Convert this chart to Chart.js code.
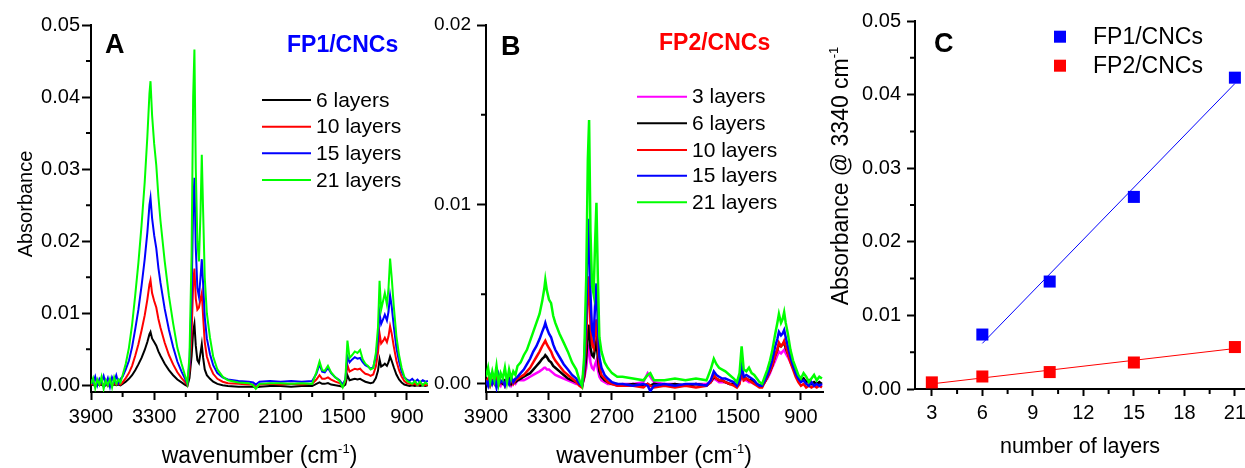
<!DOCTYPE html>
<html>
<head>
<meta charset="utf-8">
<title>FTIR absorbance of FP/CNC multilayers</title>
<script src="https://cdn.jsdelivr.net/npm/chart.js@4.4.1/dist/chart.umd.min.js"></script>
<style>
  html, body { margin: 0; padding: 0; background: #fff; overflow: hidden; width: 1245px; height: 468px; }
  canvas { position: absolute; top: 0; }
  #chartA { left: 0; }
  #chartB { left: 425px; }
  #chartC { left: 800px; }
</style>
</head>
<body>
<canvas id="chartA" width="440" height="468" style="width:440px;height:468px"></canvas>
<canvas id="chartB" width="410" height="468" style="width:410px;height:468px"></canvas>
<canvas id="chartC" width="460" height="468" style="width:460px;height:468px"></canvas>
<script>
// ---- data ----

// wavenumber grid (cm-1) shared by panels A and B
const wavenumbers = [
  3900, 3880, 3860, 3840, 3820, 3800, 3780, 3760, 3740, 3720,
  3700, 3680, 3660, 3640, 3620, 3600, 3570, 3540, 3510, 3480,
  3450, 3420, 3390, 3365, 3345, 3335, 3320, 3300, 3280, 3260,
  3240, 3200, 3160, 3120, 3080, 3040, 3010, 2985, 2965, 2945,
  2930, 2918, 2905, 2890, 2875, 2860, 2848, 2835, 2820, 2800,
  2770, 2740, 2700, 2650, 2600, 2500, 2400, 2360, 2335, 2300,
  2200, 2100, 2000, 1900, 1800, 1760, 1730, 1705, 1680, 1650,
  1620, 1580, 1540, 1510, 1485, 1465, 1445, 1420, 1395, 1370,
  1345, 1320, 1295, 1270, 1245, 1220, 1195, 1175, 1160, 1145,
  1125, 1110, 1090, 1075, 1060, 1045, 1025, 1000, 975, 950,
  925, 900, 875, 850, 825, 800, 775, 750, 725, 700
];

// panel A: FP1/CNCs
const fp1Layers6 = [
  0.0000, 0.0001, -0.0001, 0.0001, 0.0000, 0.0001, -0.0001, 0.0000, 0.0001, -0.0001,
  0.0000, 0.0001, 0.0000, 0.0001, 0.0000, 0.0002, 0.0005, 0.0009, 0.0014, 0.0021,
  0.0029, 0.0038, 0.0049, 0.0060, 0.0071, 0.0074, 0.0065, 0.0060, 0.0055, 0.0047,
  0.0041, 0.0030, 0.0021, 0.0014, 0.0008, 0.0004, 0.0001, -0.0001, 0.0010, 0.0040,
  0.0075, 0.0085, 0.0055, 0.0035, 0.0031, 0.0045, 0.0057, 0.0038, 0.0022, 0.0014,
  0.0009, 0.0005, 0.0002, 0.0000, -0.0001, -0.0002, -0.0002, -0.0002, -0.0003, -0.0002,
  -0.0001, -0.0001, -0.0002, -0.0001, -0.0001, 0.0002, 0.0004, 0.0002, 0.0002, 0.0003,
  0.0001, 0.0000, -0.0001, -0.0002, 0.0001, 0.0014, 0.0007, 0.0008, 0.0009, 0.0008,
  0.0009, 0.0007, 0.0005, 0.0004, 0.0003, 0.0004, 0.0010, 0.0020, 0.0036, 0.0026,
  0.0028, 0.0030, 0.0027, 0.0032, 0.0040, 0.0034, 0.0025, 0.0015, 0.0008, 0.0004,
  0.0001, 0.0000, -0.0001, 0.0000, -0.0001, 0.0000, -0.0001, 0.0000, -0.0001, 0.0000
];
const fp1Layers10 = [
  0.0001, 0.0003, -0.0001, 0.0002, 0.0000, 0.0003, 0.0001, 0.0002, -0.0001, 0.0002,
  0.0000, 0.0003, 0.0001, 0.0002, 0.0001, 0.0004, 0.0010, 0.0017, 0.0027, 0.0041,
  0.0057, 0.0076, 0.0097, 0.0119, 0.0140, 0.0146, 0.0128, 0.0117, 0.0108, 0.0092,
  0.0080, 0.0059, 0.0042, 0.0029, 0.0018, 0.0010, 0.0005, 0.0000, 0.0020, 0.0070,
  0.0140, 0.0162, 0.0120, 0.0105, 0.0108, 0.0120, 0.0128, 0.0095, 0.0060, 0.0040,
  0.0026, 0.0016, 0.0009, 0.0005, 0.0003, 0.0002, 0.0001, 0.0001, -0.0002, 0.0001,
  0.0002, 0.0001, 0.0002, 0.0001, 0.0002, 0.0008, 0.0014, 0.0009, 0.0009, 0.0011,
  0.0008, 0.0005, 0.0003, 0.0000, 0.0005, 0.0028, 0.0019, 0.0021, 0.0023, 0.0022,
  0.0023, 0.0019, 0.0016, 0.0015, 0.0013, 0.0015, 0.0026, 0.0045, 0.0072, 0.0058,
  0.0062, 0.0066, 0.0060, 0.0068, 0.0082, 0.0072, 0.0054, 0.0034, 0.0021, 0.0012,
  0.0006, 0.0003, 0.0002, 0.0001, 0.0002, 0.0000, 0.0002, 0.0001, 0.0000, 0.0001
];
const fp1Layers15 = [
  0.0008, 0.0003, 0.0012, 0.0000, 0.0009, 0.0004, 0.0013, 0.0002, 0.0010, -0.0002,
  0.0011, 0.0005, 0.0014, 0.0003, 0.0009, 0.0012, 0.0022, 0.0034, 0.0053, 0.0078,
  0.0105, 0.0138, 0.0175, 0.0212, 0.0250, 0.0260, 0.0232, 0.0208, 0.0190, 0.0163,
  0.0142, 0.0106, 0.0077, 0.0053, 0.0033, 0.0019, 0.0010, 0.0002, 0.0030, 0.0120,
  0.0250, 0.0288, 0.0190, 0.0135, 0.0123, 0.0150, 0.0175, 0.0140, 0.0095, 0.0065,
  0.0043, 0.0028, 0.0017, 0.0011, 0.0008, 0.0006, 0.0005, 0.0004, 0.0001, 0.0005,
  0.0006, 0.0005, 0.0006, 0.0005, 0.0006, 0.0016, 0.0029, 0.0019, 0.0018, 0.0024,
  0.0017, 0.0011, 0.0007, 0.0001, 0.0008, 0.0040, 0.0032, 0.0036, 0.0039, 0.0037,
  0.0038, 0.0032, 0.0028, 0.0026, 0.0023, 0.0025, 0.0040, 0.0065, 0.0100, 0.0085,
  0.0092, 0.0098, 0.0090, 0.0102, 0.0125, 0.0110, 0.0082, 0.0052, 0.0033, 0.0019,
  0.0011, 0.0008, 0.0006, 0.0009, 0.0005, 0.0008, 0.0004, 0.0007, 0.0005, 0.0006
];
const fp1Layers21 = [
  0.0002, 0.0010, -0.0004, 0.0008, 0.0001, 0.0012, -0.0005, 0.0007, 0.0000, 0.0009,
  -0.0003, 0.0011, 0.0002, 0.0008, 0.0004, 0.0014, 0.0030, 0.0052, 0.0084, 0.0125,
  0.0170, 0.0222, 0.0282, 0.0345, 0.0405, 0.0422, 0.0375, 0.0335, 0.0305, 0.0262,
  0.0228, 0.0172, 0.0124, 0.0086, 0.0052, 0.0030, 0.0015, 0.0003, 0.0040, 0.0180,
  0.0400, 0.0466, 0.0300, 0.0200, 0.0172, 0.0240, 0.0320, 0.0240, 0.0150, 0.0100,
  0.0066, 0.0040, 0.0022, 0.0012, 0.0007, 0.0004, 0.0003, 0.0000, -0.0005, 0.0002,
  0.0003, 0.0003, 0.0002, 0.0003, 0.0002, 0.0018, 0.0033, 0.0021, 0.0020, 0.0027,
  0.0018, 0.0011, 0.0006, -0.0003, 0.0008, 0.0062, 0.0038, 0.0042, 0.0047, 0.0045,
  0.0049, 0.0036, 0.0030, 0.0027, 0.0022, 0.0024, 0.0045, 0.0080, 0.0145, 0.0105,
  0.0118, 0.0128, 0.0112, 0.0135, 0.0176, 0.0150, 0.0110, 0.0068, 0.0042, 0.0024,
  0.0012, 0.0006, 0.0004, 0.0002, 0.0006, 0.0001, 0.0005, 0.0000, 0.0004, 0.0001
];

// panel B: FP2/CNCs
const fp2Layers3 = [
  0.0000, 0.0002, -0.0001, 0.0001, 0.0002, 0.0000, 0.0001, -0.0001, 0.0002, 0.0000,
  0.0001, 0.0002, -0.0001, 0.0001, 0.0000, 0.0002, 0.0002, 0.0002, 0.0003, 0.0004,
  0.0005, 0.0006, 0.0007, 0.0008, 0.0009, 0.0009, 0.0008, 0.0008, 0.0007, 0.0006,
  0.0005, 0.0004, 0.0003, 0.0002, 0.0001, 0.0000, 0.0000, -0.0001, 0.0003, 0.0009,
  0.0018, 0.0021, 0.0012, 0.0009, 0.0008, 0.0011, 0.0013, 0.0008, 0.0004, 0.0002,
  0.0001, 0.0000, 0.0000, -0.0001, 0.0000, 0.0000, 0.0001, 0.0006, 0.0004, 0.0001,
  0.0000, 0.0000, -0.0001, 0.0000, 0.0000, 0.0001, 0.0003, 0.0002, 0.0001, 0.0001,
  0.0001, 0.0000, 0.0000, -0.0001, 0.0001, 0.0005, 0.0002, 0.0002, 0.0001, 0.0001,
  0.0000, 0.0000, -0.0001, 0.0000, 0.0001, 0.0003, 0.0006, 0.0009, 0.0011, 0.0013,
  0.0016, 0.0018, 0.0017, 0.0018, 0.0019, 0.0017, 0.0015, 0.0012, 0.0009, 0.0006,
  0.0004, 0.0002, 0.0003, 0.0001, 0.0000, 0.0001, -0.0001, 0.0000, -0.0001, 0.0000
];
const fp2Layers6 = [
  0.0002, 0.0000, 0.0003, 0.0001, 0.0002, -0.0001, 0.0003, 0.0001, 0.0000, 0.0002,
  0.0001, 0.0003, 0.0000, 0.0002, 0.0001, 0.0002, 0.0003, 0.0004, 0.0005, 0.0006,
  0.0008, 0.0010, 0.0012, 0.0014, 0.0015, 0.0016, 0.0015, 0.0013, 0.0012, 0.0010,
  0.0009, 0.0007, 0.0005, 0.0003, 0.0002, 0.0001, 0.0000, -0.0001, 0.0004, 0.0015,
  0.0028, 0.0033, 0.0020, 0.0016, 0.0015, 0.0020, 0.0024, 0.0015, 0.0007, 0.0004,
  0.0002, 0.0001, 0.0000, 0.0000, -0.0001, 0.0000, -0.0001, 0.0000, -0.0001, 0.0000,
  -0.0001, 0.0000, -0.0001, 0.0000, -0.0001, 0.0001, 0.0004, 0.0003, 0.0002, 0.0002,
  0.0001, 0.0000, 0.0000, -0.0001, 0.0001, 0.0007, 0.0003, 0.0003, 0.0002, 0.0002,
  0.0001, 0.0000, -0.0001, -0.0001, 0.0001, 0.0004, 0.0007, 0.0010, 0.0013, 0.0016,
  0.0019, 0.0022, 0.0021, 0.0022, 0.0023, 0.0020, 0.0017, 0.0013, 0.0009, 0.0006,
  0.0004, 0.0002, 0.0003, 0.0001, 0.0002, 0.0000, 0.0001, 0.0000, 0.0001, 0.0000
];
const fp2Layers10 = [
  0.0001, 0.0003, -0.0001, 0.0002, 0.0000, 0.0003, -0.0001, 0.0001, 0.0002, -0.0001,
  0.0002, 0.0000, 0.0003, 0.0000, 0.0002, 0.0003, 0.0004, 0.0005, 0.0007, 0.0009,
  0.0012, 0.0015, 0.0018, 0.0021, 0.0023, 0.0024, 0.0022, 0.0020, 0.0018, 0.0015,
  0.0013, 0.0010, 0.0007, 0.0005, 0.0003, 0.0001, -0.0001, -0.0002, 0.0006, 0.0026,
  0.0051, 0.0060, 0.0034, 0.0022, 0.0020, 0.0029, 0.0036, 0.0022, 0.0010, 0.0005,
  0.0003, 0.0001, 0.0000, -0.0001, -0.0001, -0.0001, -0.0002, 0.0000, -0.0001, -0.0002,
  -0.0001, -0.0002, -0.0001, -0.0002, -0.0001, 0.0001, 0.0005, 0.0003, 0.0002, 0.0002,
  0.0001, 0.0000, -0.0001, -0.0002, 0.0000, 0.0007, 0.0002, 0.0003, 0.0002, 0.0001,
  0.0000, -0.0001, -0.0002, -0.0002, 0.0001, 0.0004, 0.0007, 0.0010, 0.0013, 0.0016,
  0.0019, 0.0023, 0.0021, 0.0022, 0.0024, 0.0021, 0.0017, 0.0012, 0.0008, 0.0004,
  0.0001, -0.0001, 0.0000, -0.0002, -0.0001, -0.0002, -0.0001, -0.0002, -0.0001, -0.0002
];
const fp2Layers15 = [
  0.0002, -0.0001, 0.0004, 0.0000, 0.0003, -0.0002, 0.0005, 0.0001, 0.0002, -0.0001,
  0.0003, 0.0000, 0.0004, 0.0001, 0.0003, 0.0004, 0.0006, 0.0008, 0.0011, 0.0014,
  0.0018, 0.0021, 0.0025, 0.0029, 0.0032, 0.0034, 0.0031, 0.0028, 0.0026, 0.0022,
  0.0019, 0.0015, 0.0011, 0.0008, 0.0005, 0.0003, 0.0000, -0.0001, 0.0010, 0.0040,
  0.0078, 0.0092, 0.0050, 0.0030, 0.0026, 0.0045, 0.0056, 0.0035, 0.0015, 0.0009,
  0.0005, 0.0003, 0.0001, 0.0000, 0.0000, -0.0001, 0.0000, -0.0001, -0.0004, -0.0001,
  0.0000, -0.0001, 0.0000, 0.0000, -0.0001, 0.0002, 0.0007, 0.0005, 0.0004, 0.0003,
  0.0003, 0.0002, 0.0001, -0.0001, 0.0002, 0.0010, 0.0004, 0.0005, 0.0004, 0.0003,
  0.0002, 0.0000, -0.0001, -0.0001, 0.0002, 0.0005, 0.0009, 0.0013, 0.0017, 0.0021,
  0.0025, 0.0029, 0.0027, 0.0028, 0.0030, 0.0026, 0.0021, 0.0015, 0.0010, 0.0006,
  0.0003, 0.0001, 0.0002, 0.0000, -0.0001, 0.0001, -0.0001, 0.0000, -0.0001, 0.0000
];
const fp2Layers21 = [
  0.0004, 0.0009, 0.0001, 0.0007, 0.0002, 0.0010, 0.0000, 0.0006, 0.0003, 0.0009,
  0.0001, 0.0008, 0.0003, 0.0007, 0.0005, 0.0010, 0.0012, 0.0016, 0.0019, 0.0024,
  0.0029, 0.0034, 0.0039, 0.0046, 0.0053, 0.0058, 0.0052, 0.0047, 0.0045, 0.0038,
  0.0034, 0.0028, 0.0023, 0.0018, 0.0012, 0.0008, 0.0002, -0.0001, 0.0015, 0.0060,
  0.0125, 0.0147, 0.0085, 0.0055, 0.0050, 0.0080, 0.0101, 0.0060, 0.0026, 0.0018,
  0.0012, 0.0009, 0.0006, 0.0004, 0.0004, 0.0003, 0.0002, 0.0005, 0.0006, 0.0002,
  0.0002, 0.0003, 0.0002, 0.0003, 0.0002, 0.0008, 0.0014, 0.0011, 0.0009, 0.0008,
  0.0007, 0.0005, 0.0003, 0.0001, 0.0006, 0.0021, 0.0008, 0.0007, 0.0009, 0.0006,
  0.0005, 0.0003, 0.0001, 0.0000, 0.0004, 0.0008, 0.0013, 0.0018, 0.0023, 0.0028,
  0.0034, 0.0039, 0.0034, 0.0036, 0.0040, 0.0034, 0.0028, 0.0019, 0.0013, 0.0009,
  0.0005, 0.0003, 0.0006, 0.0004, 0.0001, 0.0003, 0.0005, 0.0002, 0.0004, 0.0003
];

// panel C: absorbance at 3340 cm-1 vs number of layers
const fp1LayerCounts = [6, 10, 15, 21];
const fp1Absorbance3340 = [0.0074, 0.0146, 0.0261, 0.0423];
const fp2LayerCounts = [3, 6, 10, 15, 21];
const fp2Absorbance3340 = [0.0009, 0.0017, 0.0023, 0.0036, 0.0057];
const fp1FitLayers = [6, 21];
const fp1FitAbsorbance = [0.0062, 0.0415];
const fp2FitLayers = [3, 21];
const fp2FitAbsorbance = [0.0007, 0.0055];

// tick values
const wavenumberTicks = [3900, 3300, 2700, 2100, 1500, 900];
const wavenumberMinor = [3600, 3000, 2400, 1800, 1200];
const absTicksA = [0, 0.01, 0.02, 0.03, 0.04, 0.05];
const absMinorA = [0.005, 0.015, 0.025, 0.035, 0.045];
const absTicksB = [0, 0.01, 0.02];
const absMinorB = [0.005, 0.015];
const layerTicks = [3, 6, 9, 12, 15, 18, 21];
const layerMinor = [4.5, 7.5, 10.5, 13.5, 16.5, 19.5];

// ---- drawing ----
const FONT = "'Liberation Sans', Arial, Helvetica, sans-serif";
Chart.defaults.font.family = FONT;
Chart.defaults.color = '#000';

function axis(o) {
  return {
    type: 'linear',
    min: o.min,
    max: o.max,
    reverse: !!o.reverse,
    border: { display: true, color: '#000', width: 2 },
    grid: { drawOnChartArea: false, drawTicks: true, tickLength: o.tickLength, tickWidth: 2, tickColor: '#000' },
    ticks: {
      color: '#000',
      font: { family: FONT, size: o.fontSize },
      padding: o.padding,
      maxRotation: 0,
      autoSkip: false,
      callback: o.format
    },
    afterBuildTicks: s => { s.ticks = o.ticks.map(v => ({ value: v })); },
    afterFit: o.fit
  };
}

function drawRich(ctx, parts, size, cx, baseline) {
  const supSize = Math.round(size * 0.58);
  const widths = parts.map(p => {
    ctx.font = (p.sup ? supSize : size) + 'px ' + FONT;
    return ctx.measureText(p.t).width;
  });
  let x = cx - widths.reduce((a, b) => a + b, 0) / 2;
  parts.forEach((p, i) => {
    ctx.font = (p.sup ? supSize : size) + 'px ' + FONT;
    ctx.fillText(p.t, x, p.sup ? baseline - size * 0.42 : baseline);
    x += widths[i];
  });
}

const decor = {
  id: 'decor',
  afterDraw(chart, args, o) {
    const ctx = chart.ctx;
    const area = chart.chartArea;
    const xs = chart.scales.x, ys = chart.scales.y;
    const dx = o.offset;
    ctx.save();

    // minor ticks
    ctx.strokeStyle = '#000';
    ctx.lineWidth = 2;
    ctx.beginPath();
    o.minorX.forEach(v => {
      const p = xs.getPixelForValue(v);
      ctx.moveTo(p, area.bottom);
      ctx.lineTo(p, area.bottom + 5);
    });
    o.minorY.forEach(v => {
      const p = ys.getPixelForValue(v);
      ctx.moveTo(area.left, p);
      ctx.lineTo(area.left - 5, p);
    });
    ctx.stroke();

    ctx.textAlign = 'left';
    ctx.textBaseline = 'alphabetic';
    ctx.fillStyle = '#000';
    ctx.font = 'bold 27px ' + FONT;
    ctx.fillText(o.letter.text, o.letter.x - dx, o.letter.y);

    if (o.title) {
      ctx.fillStyle = o.title.color;
      ctx.font = 'bold 23px ' + FONT;
      ctx.fillText(o.title.text, o.title.x - dx, o.title.y);
    }

    // legend
    const lg = o.legend;
    const items = chart.data.datasets.filter(d => d.inLegend);
    ctx.font = lg.size + 'px ' + FONT;
    ctx.textBaseline = 'middle';
    items.forEach((d, i) => {
      const y = lg.rows[i];
      if (lg.square) {
        ctx.fillStyle = d.backgroundColor;
        ctx.fillRect(lg.x1 - dx - 6, y - 6, 12, 12);
      } else {
        ctx.strokeStyle = d.borderColor;
        ctx.lineWidth = 2;
        ctx.beginPath();
        ctx.moveTo(lg.x1 - dx, y);
        ctx.lineTo(lg.x2 - dx, y);
        ctx.stroke();
      }
      ctx.fillStyle = '#000';
      ctx.fillText(d.label, lg.tx - dx, y + 1);
    });

    // axis titles
    ctx.textBaseline = 'alphabetic';
    ctx.fillStyle = '#000';
    const xt = o.xTitle;
    drawRich(ctx, xt.parts, xt.size, xt.x - dx, xt.y);
    if (o.yTitle) {
      const yt = o.yTitle;
      ctx.save();
      ctx.translate(yt.x - dx, yt.y);
      ctx.rotate(-Math.PI / 2);
      drawRich(ctx, yt.parts, yt.size, 0, 0);
      ctx.restore();
    }
    ctx.restore();
  }
};

function spectra(series) {
  return series.map((s, i) => ({
    label: s.label,
    inLegend: true,
    data: wavenumbers.map((w, k) => ({ x: w, y: s.values[k] })),
    borderColor: s.color,
    borderWidth: s.width,
    pointRadius: 0,
    tension: 0,
    order: series.length - 1 - i
  }));
}

const wnTitle = [{ t: 'wavenumber (cm' }, { t: '-1', sup: true }, { t: ')' }];
const baseOptions = {
  responsive: false,
  animation: false,
  devicePixelRatio: 1,
  events: []
};

new Chart(document.getElementById('chartA'), {
  type: 'line',
  data: {
    datasets: spectra([
      { label: '6 layers', values: fp1Layers6, color: '#000000', width: 2 },
      { label: '10 layers', values: fp1Layers10, color: '#FF0000', width: 2 },
      { label: '15 layers', values: fp1Layers15, color: '#0000FF', width: 2 },
      { label: '21 layers', values: fp1Layers21, color: '#00FF00', width: 2 }
    ])
  },
  options: Object.assign({}, baseOptions, {
    layout: { padding: { top: 25, right: 12, bottom: 0, left: 0 } },
    scales: {
      x: axis({ min: 700, max: 3900, reverse: true, ticks: wavenumberTicks, fontSize: 20, tickLength: 8, padding: 5,
        format: v => String(v), fit: s => { s.height = 76; } }),
      y: axis({ min: -0.00093, max: 0.05, ticks: absTicksA, fontSize: 20, tickLength: 9, padding: 2,
        format: v => v.toFixed(2), fit: s => { s.width = 91; } })
    },
    plugins: {
      legend: { display: false },
      tooltip: { enabled: false },
      decor: {
        offset: 0,
        minorX: wavenumberMinor,
        minorY: absMinorA,
        letter: { text: 'A', x: 105, y: 53 },
        title: { text: 'FP1/CNCs', color: '#0000FF', x: 287, y: 52 },
        legend: { x1: 262, x2: 311, tx: 316, rows: [100, 126.7, 153.3, 180], size: 21 },
        xTitle: { parts: wnTitle, size: 23, x: 259.5, y: 463 },
        yTitle: { parts: [{ t: 'Absorbance' }], size: 20, x: 32, y: 204 }
      }
    }
  }),
  plugins: [decor]
});

new Chart(document.getElementById('chartB'), {
  type: 'line',
  data: {
    datasets: spectra([
      { label: '3 layers', values: fp2Layers3, color: '#FF00FF', width: 2.5 },
      { label: '6 layers', values: fp2Layers6, color: '#000000', width: 2.5 },
      { label: '10 layers', values: fp2Layers10, color: '#FF0000', width: 2.5 },
      { label: '15 layers', values: fp2Layers15, color: '#0000FF', width: 2.5 },
      { label: '21 layers', values: fp2Layers21, color: '#00FF00', width: 2.5 }
    ])
  },
  options: Object.assign({}, baseOptions, {
    layout: { padding: { top: 25, right: 12, bottom: 0, left: 0 } },
    scales: {
      x: axis({ min: 690, max: 3900, reverse: true, ticks: wavenumberTicks, fontSize: 20, tickLength: 8, padding: 5,
        format: v => String(v), fit: s => { s.height = 76; } }),
      y: axis({ min: -0.00045, max: 0.02, ticks: absTicksB, fontSize: 19, tickLength: 9, padding: 6,
        format: v => v.toFixed(2), fit: s => { s.width = 61; } })
    },
    plugins: {
      legend: { display: false },
      tooltip: { enabled: false },
      decor: {
        offset: 425,
        minorX: wavenumberMinor,
        minorY: absMinorB,
        letter: { text: 'B', x: 501, y: 55 },
        title: { text: 'FP2/CNCs', color: '#FF0000', x: 659, y: 50 },
        legend: { x1: 637, x2: 687, tx: 692, rows: [96.7, 123.3, 150, 175.7, 202.3], size: 21 },
        xTitle: { parts: wnTitle, size: 23, x: 654, y: 463 }
      }
    }
  }),
  plugins: [decor]
});

new Chart(document.getElementById('chartC'), {
  type: 'scatter',
  data: {
    datasets: [
      {
        label: 'FP1/CNCs', inLegend: true,
        data: fp1LayerCounts.map((n, i) => ({ x: n, y: fp1Absorbance3340[i] })),
        pointStyle: 'rect', pointRadius: 8.5, backgroundColor: '#0000FF', borderWidth: 0, order: 0
      },
      {
        label: 'FP2/CNCs', inLegend: true,
        data: fp2LayerCounts.map((n, i) => ({ x: n, y: fp2Absorbance3340[i] })),
        pointStyle: 'rect', pointRadius: 8.5, backgroundColor: '#FF0000', borderWidth: 0, order: 0
      },
      {
        type: 'line', label: 'FP1 fit',
        data: fp1FitLayers.map((n, i) => ({ x: n, y: fp1FitAbsorbance[i] })),
        borderColor: '#0000FF', borderWidth: 1, pointRadius: 0, showLine: true, order: 1
      },
      {
        type: 'line', label: 'FP2 fit',
        data: fp2FitLayers.map((n, i) => ({ x: n, y: fp2FitAbsorbance[i] })),
        borderColor: '#FF0000', borderWidth: 1, pointRadius: 0, showLine: true, order: 1
      }
    ]
  },
  options: Object.assign({}, baseOptions, {
    layout: { padding: { top: 21, right: 15, bottom: 0, left: 0 } },
    scales: {
      x: axis({ min: 2, max: 21.6, ticks: layerTicks, fontSize: 20, tickLength: 7, padding: 5,
        format: v => String(v), fit: s => { s.height = 79; } }),
      y: axis({ min: 0, max: 0.05, ticks: absTicksA, fontSize: 20, tickLength: 8, padding: 6,
        format: v => v.toFixed(2), fit: s => { s.width = 115; } })
    },
    plugins: {
      legend: { display: false },
      tooltip: { enabled: false },
      decor: {
        offset: 800,
        minorX: layerMinor,
        minorY: absMinorA,
        letter: { text: 'C', x: 934, y: 52 },
        legend: { square: true, x1: 1060, tx: 1093, rows: [36.7, 65.7], size: 23 },
        xTitle: { parts: [{ t: 'number of layers' }], size: 21.5, x: 1080, y: 453 },
        yTitle: { parts: [{ t: 'Absorbance @ 3340 cm' }, { t: '-1', sup: true }], size: 23, x: 848, y: 176 }
      }
    }
  }),
  plugins: [decor]
});
</script>
</body>
</html>
